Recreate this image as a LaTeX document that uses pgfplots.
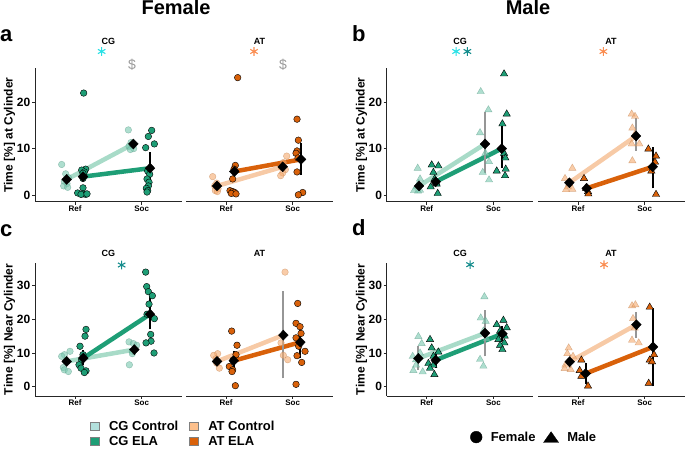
\documentclass[border=0pt]{standalone}
\usepackage{fontspec}
\setmainfont{Liberation Sans}
\usepackage{pgfplots}
\pgfplotsset{compat=1.18}
\definecolor{CGc}{RGB}{120,200,175}
\definecolor{CGcL}{RGB}{168,219,200}
\definecolor{CGe}{RGB}{30,158,118}
\definecolor{ATc}{RGB}{245,170,110}
\definecolor{ATcL}{RGB}{247,202,166}
\definecolor{ATe}{RGB}{217,97,10}
\definecolor{CGcLeg}{RGB}{178,224,220}
\definecolor{ATcLeg}{RGB}{253,192,140}
\definecolor{sigCyan}{RGB}{40,225,230}
\definecolor{sigTeal}{RGB}{20,140,140}
\definecolor{sigOrange}{RGB}{250,140,80}
\definecolor{ebgray}{RGB}{150,150,150}
\pgfplotsset{
  facet/.style={scale only axis, width=146.7pt, xmin=0.4, xmax=2.6, xtick={1,2}, xticklabels={Ref,Soc},
    anchor=south west, clip=false,
    axis line style={-, line width=0.9pt, black!85},
    x axis line style={-}, y axis line style={-},
    every outer x axis line/.append style={-}, every outer y axis line/.append style={-},
    every inner x axis line/.append style={-}, every inner y axis line/.append style={-},
    tick style={line width=0.8pt, black!85}, tick align=outside, major tick length=3pt,
    xticklabel style={font=\bfseries\fontsize{8}{8}\selectfont, inner sep=1pt},
    yticklabel style={font=\bfseries\fontsize{12}{12}\selectfont, inner sep=1.5pt},
  },
  cgfacet/.style={axis x line=bottom, axis y line=left, facet},
  atfacet/.style={axis x line=bottom, axis y line=none, facet, ytick=\empty},
  rowA/.style={height=133.4pt, ymin=-1.37, ymax=27.2, ytick={0,10,20}, yticklabels={0,10,20}},
  rowC/.style={height=133pt, ymin=-2.76, ymax=36.7, ytick={0,10,20,30}, yticklabels={0,10,20,30}},
  ctrlF/.style={only marks, mark=*, mark size=3.3pt, mark options={fill=#1, draw=#1!80!black, fill opacity=0.6, draw opacity=0.6, line width=0.4pt}},
  elaF/.style={only marks, mark=*, mark size=3.3pt, mark options={fill=#1, draw=black, line width=0.4pt}},
  ctrlM/.style={only marks, mark=triangle*, mark size=4.2pt, mark options={fill=#1, draw=#1!80!black, fill opacity=0.6, draw opacity=0.6, line width=0.4pt}},
  elaM/.style={only marks, mark=triangle*, mark size=4.2pt, mark options={fill=#1, draw=black, line width=0.4pt}},
  conn/.style={line width=4.5pt, color=#1, mark=none},
  ebar/.style={line width=2pt, color=#1, mark=none, unbounded coords=jump},
  means/.style={only marks, mark=diamond*, mark size=5pt, mark options={fill=black, draw=black, xscale=1.3}},
  sig/.style={only marks, mark=asterisk, mark size=4.3pt, mark options={draw=#1, line width=1.1pt}},
}
\begin{document}
\begin{tikzpicture}[x=1pt,y=1pt]
\useasboundingbox (0,0) rectangle (685,449);
% ---------------- titles and labels
\node[anchor=base, inner sep=0pt, font=\bfseries\fontsize{20}{20}\selectfont] at (176,434) {Female};
\node[anchor=base, inner sep=0pt, font=\bfseries\fontsize{20}{20}\selectfont] at (528,434) {Male};
\node[anchor=base west, inner sep=0pt, font=\bfseries\fontsize{22}{22}\selectfont] at (0,407) {a};
\node[anchor=base west, inner sep=0pt, font=\bfseries\fontsize{22}{22}\selectfont] at (352,407) {b};
\node[anchor=base west, inner sep=0pt, font=\bfseries\fontsize{22}{22}\selectfont] at (0,212.5) {c};
\node[anchor=base west, inner sep=0pt, font=\bfseries\fontsize{22}{22}\selectfont] at (352,213) {d};
\foreach \xx/\tt in {108.3/CG, 259.5/AT, 460/CG, 611/AT}{
  \node[anchor=base, inner sep=0pt, font=\bfseries\fontsize{9}{9}\selectfont] at (\xx,404) {\tt};
  \node[anchor=base, inner sep=0pt, font=\bfseries\fontsize{9}{9}\selectfont] at (\xx,192.3) {\tt};
}
\node[rotate=90, inner sep=0pt, font=\bfseries\fontsize{12}{12}\selectfont] at (9.5,314) {Time [\%] at Cylinder};
\node[rotate=90, inner sep=0pt, font=\bfseries\fontsize{12}{12}\selectfont] at (361.5,314) {Time [\%] at Cylinder};
\node[rotate=90, inner sep=0pt, font=\bfseries\fontsize{12}{12}\selectfont] at (9.5,119.5) {Time [\%] Near Cylinder};
\node[rotate=90, inner sep=0pt, font=\bfseries\fontsize{12}{12}\selectfont] at (361.5,119.5) {Time [\%] Near Cylinder};

% ================= panel a CG
\begin{axis}[cgfacet, rowA, at={(35pt,247.3pt)}]
\addplot[ctrlF=CGc] coordinates {(0.80,6.6) (0.86,4.6) (0.90,3.8) (0.84,3.0) (0.88,2.5) (0.83,2.0) (0.89,1.7)
 (1.80,14.0) (1.84,11.3) (1.86,10.8) (1.81,10.5) (1.88,10.0) (1.83,9.8)};
\addplot[elaF=CGe] coordinates {(1.13,21.9) (1.16,5.6) (1.10,5.4) (1.14,5.0) (1.12,4.7) (1.12,3.6) (1.12,1.6) (1.04,0.5) (1.12,0.3) (1.16,0.2) (1.09,0.2) (1.18,0.3)
 (2.15,13.9) (2.10,12.6) (2.19,11.0) (2.06,10.2) (2.09,5.2) (2.12,4.5) (2.08,3.5) (2.11,2.8) (2.10,2.0) (2.07,1.5) (2.09,1.0) (2.08,0.7)};
\addplot[conn=CGcL] coordinates {(0.875,3.4) (1.875,11.0)};
\addplot[conn=CGe] coordinates {(1.12,4.0) (2.125,5.8)};
\addplot[ebar=black] coordinates {(2.125,3.3) (2.125,9.3)};
\addplot[means] coordinates {(0.875,3.4) (1.12,4.0) (1.875,11.0) (2.125,5.8)};
\addplot[sig=sigCyan] coordinates {(1.40,30.8)};
\node[text=black!40, font=\fontsize{14}{14}\selectfont] at (axis cs:1.855,27.9) {\$};
\end{axis}
% ================= panel a AT
\begin{axis}[atfacet, rowA, at={(186pt,247.3pt)}]
\addplot[ctrlF=ATc] coordinates {(0.80,4.0) (0.86,2.6) (0.83,2.0) (0.88,1.4) (0.84,1.0) (0.87,0.8)
 (1.91,8.4) (1.86,7.0) (1.83,6.0) (1.89,5.5) (1.85,4.8) (1.82,4.2)};
\addplot[elaF=ATe] coordinates {(1.175,25.2) (1.14,6.4) (1.12,5.6) (1.10,3.5) (1.06,1.0) (1.10,0.8) (1.13,0.6) (1.08,0.4) (1.15,0.3)
 (2.065,16.3) (2.085,11.8) (2.065,9.5) (2.05,9.0) (2.08,8.0) (2.065,5.0) (2.15,0.6) (2.085,0.1)};
\addplot[conn=ATcL] coordinates {(0.865,2.0) (1.85,6.1)};
\addplot[conn=ATe] coordinates {(1.125,5.1) (2.125,7.7)};
\addplot[ebar=black] coordinates {(2.125,4.3) (2.125,11.1)};
\addplot[means] coordinates {(0.865,2.0) (1.125,5.1) (1.85,6.1) (2.125,7.7)};
\addplot[sig=sigOrange] coordinates {(1.42,30.8)};
\node[text=black!40, font=\fontsize{14}{14}\selectfont] at (axis cs:1.855,27.9) {\$};
\end{axis}
% ================= panel b CG
\begin{axis}[cgfacet, rowA, at={(386.7pt,247.3pt)}]
\addplot[ctrlM=CGc] coordinates {(0.865,5.8) (0.90,3.5) (0.88,2.5) (0.85,1.8) (0.90,1.1) (0.81,1.0) (0.87,0.9)
 (1.81,22.2) (1.925,18.3) (1.80,13.4) (1.88,9.0) (1.935,7.2) (1.84,4.9) (1.935,3.3)};
\addplot[elaM=CGe] coordinates {(1.075,6.5) (1.175,6.3) (1.10,4.9) (1.12,3.5) (1.14,2.8) (1.15,2.4) (1.06,1.8) (1.165,0.4)
 (2.16,26.0) (2.20,17.4) (2.135,15.3) (2.16,9.0) (2.18,8.0) (2.185,5.6) (2.05,5.2) (2.175,4.2)};
\addplot[conn=CGcL] coordinates {(0.885,2.0) (1.875,11.0)};
\addplot[conn=CGe] coordinates {(1.135,2.9) (2.125,10.0)};
\addplot[ebar=ebgray] coordinates {(1.875,4.7) (1.875,17.9)};
\addplot[ebar=black] coordinates {(2.125,5.8) (2.125,15.5)};
\addplot[means] coordinates {(0.885,2.0) (1.135,2.9) (1.875,11.0) (2.125,10.0)};
\addplot[sig=sigCyan] coordinates {(1.44,30.8)};
\addplot[sig=sigTeal] coordinates {(1.61,30.8)};
\end{axis}
% ================= panel b AT
\begin{axis}[atfacet, rowA, at={(538pt,247.3pt)}]
\addplot[ctrlM=ATc] coordinates {(0.915,5.8) (0.805,3.6) (0.87,2.5) (0.85,1.8) (0.915,1.3) (0.82,1.2)
 (1.805,17.4) (1.855,16.9) (1.815,14.4) (1.85,13.0) (1.805,11.0) (1.92,11.0) (1.815,7.4)};
\addplot[elaM=ATe] coordinates {(1.09,3.6) (1.12,1.5) (1.15,0.8) (1.155,0.3)
 (2.055,9.9) (2.17,8.4) (2.155,7.1) (2.10,5.2) (2.17,0.2)};
\addplot[conn=ATcL] coordinates {(0.87,2.7) (1.87,12.7)};
\addplot[conn=ATe] coordinates {(1.13,1.5) (2.12,6.1)};
\addplot[ebar=ebgray] coordinates {(1.87,9.5) (1.87,16.5)};
\addplot[ebar=black] coordinates {(2.12,1.5) (2.12,10.4)};
\addplot[means] coordinates {(0.87,2.7) (1.13,1.5) (1.87,12.7) (2.12,6.1)};
\addplot[sig=sigOrange] coordinates {(1.38,30.8)};
\end{axis}
% ================= panel c CG
\begin{axis}[cgfacet, rowC, at={(35pt,53pt)}]
\addplot[ctrlF=CGc] coordinates {(0.925,10.5) (0.84,9.5) (0.80,9.0) (0.86,7.5) (0.825,5.7) (0.84,5.0) (0.90,4.5)
 (1.81,13.3) (1.875,12.8) (1.925,12.3) (1.86,10.5) (1.86,9.8) (1.815,6.5)};
\addplot[elaF=CGe] coordinates {(1.165,17.0) (1.15,15.0) (1.075,12.0) (1.12,9.5) (1.10,8.0) (1.06,6.5) (1.09,5.5) (1.165,4.7) (1.14,4.2)
 (2.06,34.0) (2.075,29.7) (2.10,28.2) (2.16,27.0) (2.11,24.5) (2.08,21.5) (2.19,20.2) (2.135,15.5) (2.14,13.5) (2.065,13.0) (2.185,10.0)};
\addplot[conn=CGcL] coordinates {(0.875,7.5) (1.89,11.0)};
\addplot[conn=CGe] coordinates {(1.125,8.5) (2.125,21.5)};
\addplot[ebar=black] coordinates {(1.125,6.5) (1.125,11.0) (1.125,nan) (2.125,17.0) (2.125,27.0)};
\addplot[means] coordinates {(0.875,7.5) (1.125,8.5) (1.89,11.0) (2.125,21.5)};
\addplot[sig=sigTeal] coordinates {(1.70,36.1)};
\end{axis}
% ================= panel c AT
\begin{axis}[atfacet, rowC, at={(186pt,53pt)}]
\addplot[ctrlF=ATc] coordinates {(0.875,9.8) (0.815,9.3) (0.85,8.3) (0.86,7.0) (0.90,5.5)
 (1.885,34.0) (1.825,13.0) (1.86,9.3) (1.925,8.0)};
\addplot[elaF=ATe] coordinates {(1.085,16.5) (1.165,12.3) (1.15,9.5) (1.11,8.0) (1.05,6.0) (1.10,5.0) (1.09,4.5) (1.14,0.3)
 (2.075,24.7) (2.05,18.8) (2.11,17.8) (2.125,15.8) (2.05,14.5) (2.09,12.0) (2.185,10.5) (2.065,9.2) (2.135,7.2) (2.05,0.7)};
\addplot[conn=ATcL] coordinates {(0.865,7.5) (1.86,15.3)};
\addplot[conn=ATe] coordinates {(1.115,7.7) (2.115,13.2)};
\addplot[ebar=ebgray] coordinates {(1.86,2.5) (1.86,28.3)};
\addplot[ebar=black] coordinates {(1.115,4.7) (1.115,10.5) (1.115,nan) (2.115,8.5) (2.115,17.7)};
\addplot[means] coordinates {(0.865,7.5) (1.115,7.7) (1.86,15.3) (2.115,13.2)};
\end{axis}
% ================= panel d CG
\begin{axis}[cgfacet, rowC, at={(386.7pt,53pt)}]
\addplot[ctrlM=CGc] coordinates {(0.875,14.9) (0.925,12.8) (0.90,10.0) (0.79,9.0) (0.84,8.0) (0.84,6.4) (0.80,4.8) (0.94,4.4)
 (1.865,26.7) (1.81,20.4) (1.885,19.4) (1.85,16.5) (1.90,14.2) (1.80,8.1) (1.85,6.1)};
\addplot[elaM=CGe] coordinates {(1.05,14.0) (1.075,11.5) (1.175,10.3) (1.10,9.0) (1.13,8.0) (1.025,6.9) (1.10,6.4) (1.05,5.5) (1.115,3.6)
 (2.15,19.7) (2.05,18.4) (2.20,17.5) (2.10,16.5) (2.17,15.0) (2.075,14.0) (2.165,13.0) (2.10,12.3) (2.135,11.0)};
\addplot[conn=CGcL] coordinates {(0.875,8.4) (1.875,15.9)};
\addplot[conn=CGe] coordinates {(1.135,7.9) (2.135,15.7)};
\addplot[ebar=ebgray] coordinates {(0.875,5.0) (0.875,12.0) (0.875,nan) (1.875,9.0) (1.875,22.8)};
\addplot[ebar=black] coordinates {(1.135,5.5) (1.135,10.3) (1.135,nan) (2.135,13.5) (2.135,18.0)};
\addplot[means] coordinates {(0.875,8.4) (1.135,7.9) (1.875,15.9) (2.135,15.7)};
\addplot[sig=sigTeal] coordinates {(1.65,36.2)};
\end{axis}
% ================= panel d AT
\begin{axis}[atfacet, rowC, at={(538pt,53pt)}]
\addplot[ctrlM=ATc] coordinates {(0.86,11.5) (0.84,9.8) (0.925,9.0) (0.87,7.5) (0.81,6.4) (0.80,5.4) (0.89,5.1)
 (1.81,24.0) (1.86,24.3) (1.825,20.2) (1.85,17.4) (1.81,13.8) (1.91,13.0)};
\addplot[elaM=ATe] coordinates {(1.05,7.9) (1.025,4.8) (1.05,3.1) (1.15,0.2)
 (2.075,23.6) (2.14,9.5) (2.075,7.9) (2.11,7.4) (2.06,1.0)};
\addplot[conn=ATcL] coordinates {(0.875,7.4) (1.875,18.4)};
\addplot[conn=ATe] coordinates {(1.115,3.9) (2.125,11.8)};
\addplot[ebar=ebgray] coordinates {(0.875,5.5) (0.875,9.5) (0.875,nan) (1.875,14.5) (1.875,22.1)};
\addplot[ebar=black] coordinates {(1.115,0.7) (1.115,7.1) (1.115,nan) (2.125,0.2) (2.125,23.3)};
\addplot[means] coordinates {(0.875,7.4) (1.115,3.9) (1.875,18.4) (2.125,11.8)};
\addplot[sig=sigOrange] coordinates {(1.39,36.2)};
\end{axis}
% ================= legends
\begin{axis}[hide axis, scale only axis, width=685pt, height=449pt, at={(0pt,0pt)}, anchor=south west,
  xmin=0, xmax=685, ymin=0, ymax=449,
  legend style={at={(0.1304,0.0625)}, anchor=north west, draw=none, fill=none,
    font=\bfseries\fontsize{13}{13}\selectfont, legend columns=2,
    nodes={inner sep=0pt},
    /tikz/every odd column/.append style={column sep=10pt},
    /tikz/every even column/.append style={column sep=10.4pt}, row sep=4.4pt, inner sep=0pt},
  legend cell align=left]
\addlegendimage{legend image code/.code={\draw[fill=CGcLeg, draw=black!50, line width=0.5pt] (0pt,-4pt) rectangle (9pt,4pt);}}
\addlegendentry{CG Control}
\addlegendimage{legend image code/.code={\draw[fill=ATcLeg, draw=black!50, line width=0.5pt] (0pt,-4pt) rectangle (9pt,4pt);}}
\addlegendentry{AT Control}
\addlegendimage{legend image code/.code={\draw[fill=CGe, draw=black!50, line width=0.5pt] (0pt,-4pt) rectangle (9pt,4pt);}}
\addlegendentry{CG ELA}
\addlegendimage{legend image code/.code={\draw[fill=ATe, draw=black!50, line width=0.5pt] (0pt,-4pt) rectangle (9pt,4pt);}}
\addlegendentry{AT ELA}
\end{axis}
\begin{axis}[hide axis, scale only axis, width=685pt, height=449pt, at={(0pt,0pt)}, anchor=south west,
  xmin=0, xmax=685, ymin=0, ymax=449,
  legend style={at={(0.6861,0.0404)}, anchor=north west, draw=none, fill=none,
    font=\bfseries\fontsize{13}{13}\selectfont, legend columns=2,
    nodes={inner sep=0pt},
    /tikz/every odd column/.append style={column sep=8.5pt},
    /tikz/every even column/.append style={column sep=7.8pt}, inner sep=0pt},
  legend cell align=left]
\addlegendimage{legend image code/.code={\fill[black] (5.85pt,0pt) circle (5.85pt);}}
\addlegendentry{Female}
\addlegendimage{legend image code/.code={\fill[black] (0pt,-5.35pt) -- (15pt,-5.35pt) -- (7.5pt,5.35pt) -- cycle;}}
\addlegendentry{Male}
\end{axis}
\end{tikzpicture}
\end{document}
